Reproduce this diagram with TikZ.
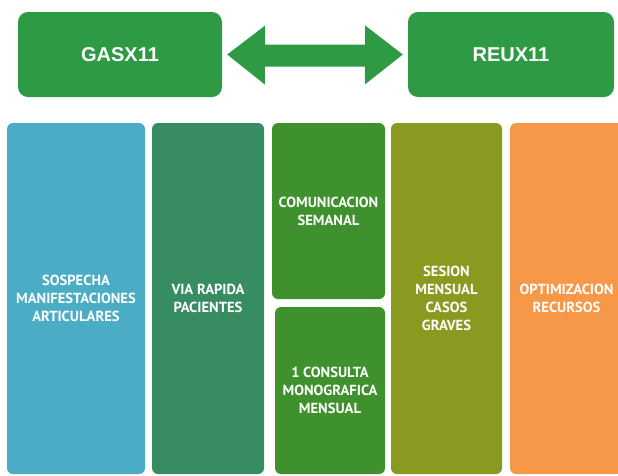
\documentclass[tikz,border=0pt]{standalone}
\usepackage{fontspec}
\setmainfont{PT Sans}
\newfontfamily\topfont{Liberation Sans}
\definecolor{topgreen}{HTML}{2F9A44}
\definecolor{cblue}{HTML}{4BACC6}
\definecolor{cteal}{HTML}{388C62}
\definecolor{cgreen}{HTML}{3E912C}
\definecolor{colive}{HTML}{8A9A20}
\definecolor{corange}{HTML}{F79748}
\tikzset{
  topbox/.style={fill=topgreen, rounded corners=10pt, inner sep=0pt, text=white,
    font=\topfont\bfseries\fontsize{20}{24}\selectfont},
  colbox/.style={rounded corners=6pt, inner sep=0pt, text=white, align=center,
    font=\bfseries\fontsize{14.6}{18}\selectfont},
}
\begin{document}
\begin{tikzpicture}[x=1pt,y=-1pt]
\useasboundingbox (0,0) rectangle (618,475);
\clip (0,0) rectangle (618,475);
\node[topbox, minimum width=204pt, minimum height=85pt] (g) at (120,54.5) {GASX11};
\node[topbox, minimum width=206pt, minimum height=85pt] (r) at (511,54.5) {REUX11};
\fill[topgreen] ([xshift=5pt]g.east) -- ++(38,-29) -- ++(0,19) -- ++(100,0) -- ++(0,-19)
  -- ([xshift=-5pt]r.west) -- ++(-38,30) -- ++(0,-18) -- ++(-100,0) -- ++(0,18) -- cycle;
\node[colbox, fill=cblue, minimum width=138pt, minimum height=351pt] (b1) at (76,298.5)
  {SOSPECHA\\MANIFESTACIONES\\ARTICULARES};
\node[colbox, fill=cteal, minimum width=112pt, minimum height=351pt] (b2) at (208,298.5)
  {VIA RAPIDA\\PACIENTES};
\node[colbox, fill=cgreen, minimum width=113pt, minimum height=176pt] (b3) at (328.5,211)
  {COMUNICACION\\SEMANAL};
\node[colbox, fill=cgreen, minimum width=110pt, minimum height=167pt] (b4) at (330,390.5)
  {1 CONSULTA\\MONOGRAFICA\\MENSUAL};
\node[colbox, fill=colive, minimum width=111pt, minimum height=351pt] (b5) at (446.5,298.5)
  {SESION\\MENSUAL\\CASOS\\GRAVES};
\node[colbox, fill=corange, minimum width=113pt, minimum height=351pt] (b6) at (566.5,298.5)
  {OPTIMIZACION\\RECURSOS};
\end{tikzpicture}
\end{document}
